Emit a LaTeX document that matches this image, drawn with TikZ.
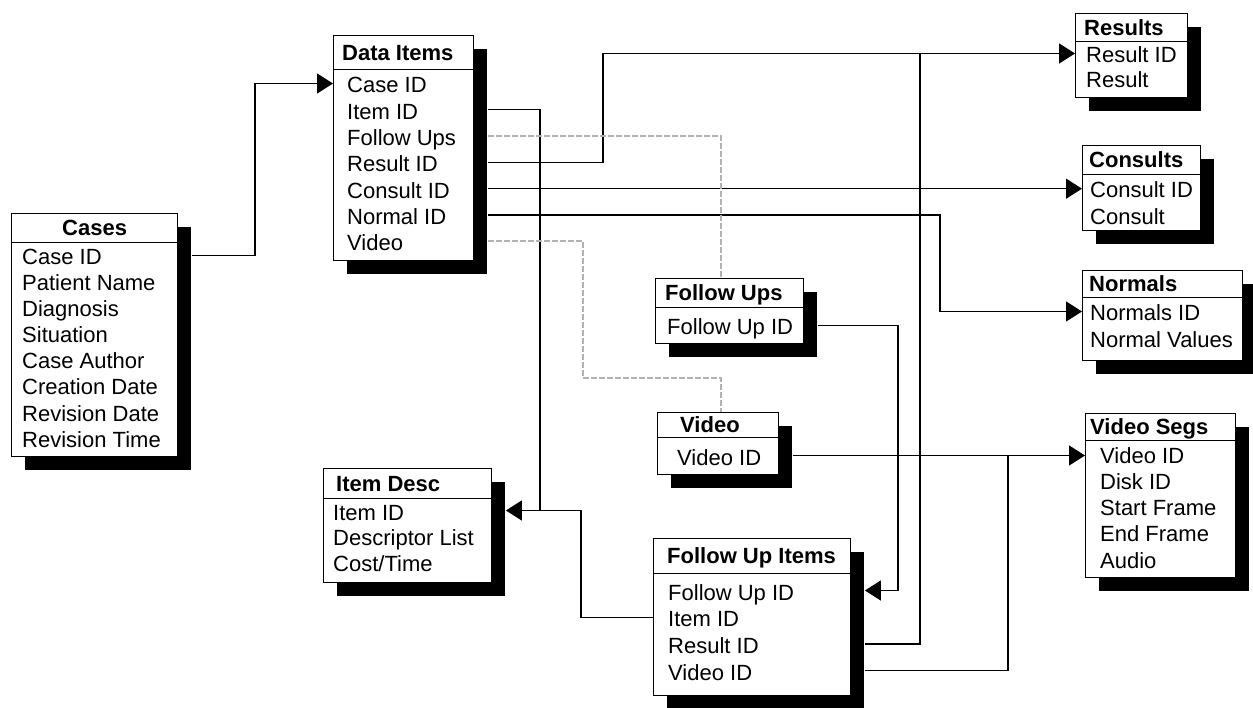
\documentclass[tikz,border=0pt]{standalone}
\usepackage{fontspec}
\setmainfont{Liberation Sans}
\usetikzlibrary{arrows.meta,shadows}
\tikzset{
 tblbox/.style={draw, line width=1.4pt, fill=white, inner sep=0pt, anchor=north west,
   drop shadow={shadow xshift=13.5pt, shadow yshift=-13.5pt, fill=black, opacity=1, draw=none}},
 sepline/.style={line width=1pt},
 ttl/.style={font=\fontsize{22}{26}\selectfont\bfseries, inner sep=0pt, anchor=base west},
 fld/.style={font=\fontsize{22}{26}\selectfont, inner sep=0pt, anchor=base west},
 conn/.style={line width=1.4pt},
 arr/.style={-{Triangle[length=16pt,width=20pt]}},
 dsh/.style={line width=1.8pt, gray!60, dash pattern=on 6pt off 2pt},
}
% name, x, y, w, h, separator offset, title x, title
\newcommand\dbtab[8]{%
  \node[tblbox, minimum width=#4pt, minimum height=#5pt] (#1) at (#2,#3) {};
  \coordinate (#1-E) at ([xshift=13.5pt]#1.east);
  \draw[sepline] ([yshift=-#6pt]#1.north west) -- ([yshift=-#6pt]#1.north east);
  \node[ttl] (#1-t) at (#7,{#3+#6/2+8}) {#8};
}
% name, x, first baseline, spacing, list
\newcommand\dbrows[5]{%
  \foreach \t [count=\i] in {#5} {
    \node[fld] (#1-\i) at (#2,{#3+#4*(\i-1)}) {\t};
    \coordinate (#1-\i-l) at ([yshift=9.5pt]#1-\i.base);
  }
}
\begin{document}
\begin{tikzpicture}[x=1pt,y=-1pt]
\fill[white] (0,0) rectangle (1253,708);
\useasboundingbox (0,0) rectangle (1253,708);

\dbtab{cases}{11}{213}{166}{243}{30}{62}{Cases}
\dbrows{cases}{22}{265}{26}{Case ID,Patient Name,Diagnosis,Situation,Case Author,Creation Date,Revision Date,Revision Time}
\dbtab{di}{333}{35}{140}{225}{35}{342}{Data Items}
\dbrows{di}{347}{93}{26.3}{Case ID,Item ID,Follow Ups,Result ID,Consult ID,Normal ID,Video}
\dbtab{res}{1075}{13}{112}{84}{29}{1084}{Results}
\dbrows{res}{1086}{63}{25}{Result ID,Result}
\dbtab{con}{1082}{145}{118}{85}{30}{1089}{Consults}
\dbrows{con}{1090}{198}{27}{Consult ID,Consult}
\dbtab{nor}{1082}{270}{160}{90}{28}{1089}{Normals}
\dbrows{nor}{1090}{321}{27}{Normals ID,Normal Values}
\dbtab{vs}{1085}{413}{150}{164}{27}{1090}{Video Segs}
\dbrows{vs}{1100}{463}{26.25}{Video ID,Disk ID,Start Frame,End Frame,Audio}
\dbtab{fu}{655}{278}{148}{65}{30}{665}{Follow Ups}
\dbrows{fu}{667}{335}{26}{Follow Up ID}
\dbtab{vid}{657}{412}{121}{62}{25}{680}{Video}
\dbrows{vid}{677}{465}{26}{Video ID}
\dbtab{id}{323}{468}{168}{114}{30}{336}{Item Desc}
\dbrows{id}{333}{520}{25.5}{Item ID,Descriptor List,Cost/Time}
\dbtab{fui}{653}{538}{197}{157}{35}{667}{Follow Up Items}
\dbrows{fui}{668}{600}{26.7}{Follow Up ID,Item ID,Result ID,Video ID}

\coordinate (x255) at (255,0);
\coordinate (x540) at (540,0);
\coordinate (x581) at (581,0);
\coordinate (x583) at (583,0);
\coordinate (x603) at (603,0);
\coordinate (x721) at (721,0);
\coordinate (x898) at (898,0);
\coordinate (x920) at (920,0);
\coordinate (x940) at (940,0);
\coordinate (x1008) at (1008,0);
\coordinate (y378) at (0,378);

% connectors
\draw[conn,arr] (cases-E |- cases-1-l) -| (x255 |- di-1-l) -- (di.west |- di-1-l);
\draw[conn] (di-E |- di-2-l) -| (x540 |- id-1-l);
\draw[conn,arr] (fui.west |- fui-2-l) -| (x581 |- id-1-l) -- (id-E |- id-1-l);
\draw[conn,arr] (di-E |- di-4-l) -| (x603 |- res-1-l) -- (res.west |- res-1-l);
\draw[conn] (fui-E |- fui-3-l) -| (x920 |- res-1-l);
\draw[conn,arr] (di-E |- di-5-l) -- (con.west |- di-5-l);
\draw[conn,arr] (di-E |- di-6-l) -| (x940 |- nor-1-l) -- (nor.west |- nor-1-l);
\draw[dsh] (di-E |- di-3-l) -| (x721 |- fu.north);
\draw[dsh] (di-E |- di-7-l) -| (x583 |- y378) -| (x721 |- vid.north);
\draw[conn,arr] (fu-E |- fu-1-l) -| (x898 |- fui-1-l) -- (fui-E |- fui-1-l);
\draw[conn,arr] (vid-E |- vid-1-l) -- (vs.west |- vid-1-l);
\draw[conn] (fui-E |- fui-4-l) -| (x1008 |- vid-1-l);
\end{tikzpicture}
\end{document}
